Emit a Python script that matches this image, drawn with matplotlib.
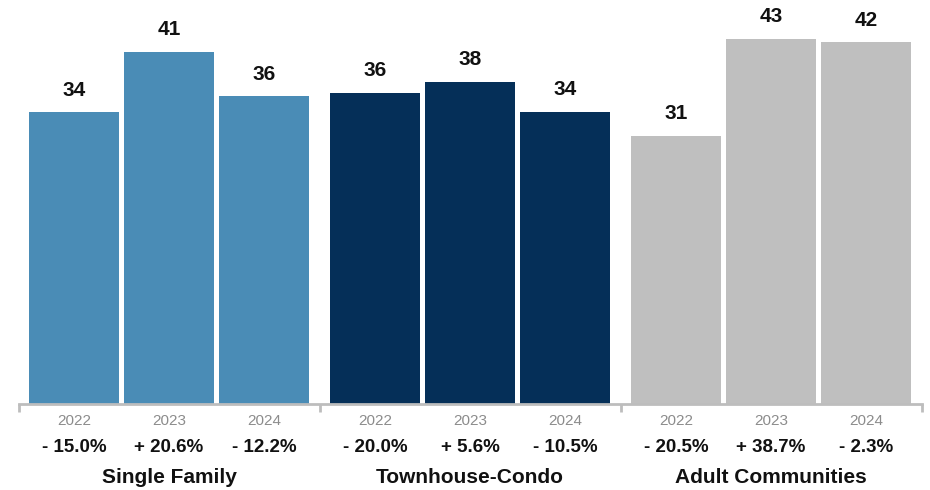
import matplotlib
matplotlib.use("Agg")
import matplotlib.pyplot as plt

plt.rcParams['font.family'] = ['Liberation Sans', 'DejaVu Sans']

categories = ["Single Family", "Townhouse-Condo", "Adult Communities"]
years = ["2022", "2023", "2024"]
# underlying values (labels are shown rounded)
values = {
    "Single Family": [34.1, 41.2, 36.0],
    "Townhouse-Condo": [36.4, 37.7, 34.2],
    "Adult Communities": [31.4, 42.7, 42.3],
}
changes = {
    "Single Family": [-15.0, 20.6, -12.2],
    "Townhouse-Condo": [-20.0, 5.6, -10.5],
    "Adult Communities": [-20.5, 38.7, -2.3],
}
colors = ["#4A8CB6", "#052F58", "#BFBFBF"]

W, H = 930, 490
fig = plt.figure(figsize=(W / 100, H / 100), dpi=100)
ax = fig.add_axes([18.5 / W, (H - 404) / H, 903 / W, 404 / H])

slot = 1.0
bar_w = 90 / 95
G = 301 / 95          # group width in slot units
half = 150.5 / 95     # half group width

tick_pos = []
for g, cat in enumerate(categories):
    center = g * G
    xs = [center + (i - 1) * slot for i in range(3)]
    ax.bar(xs, values[cat], width=bar_w, color=colors[g], zorder=2)
    for x, v, y, c in zip(xs, values[cat], years, changes[cat]):
        ax.annotate(f"{v:.0f}", xy=(x, v), xytext=(0, 22), textcoords='offset pixels',
                    ha='center', va='center', fontsize=15, fontweight='bold', color='#111111')
        ax.annotate(y, xy=(x, 0), xycoords=('data', 'axes fraction'), xytext=(0, -16.5),
                    textcoords='offset pixels', ha='center', va='center',
                    fontsize=11, color='#8C8C8C')
        sign = '+' if c >= 0 else '-'
        ax.annotate(f"{sign} {abs(c):.1f}%", xy=(x, 0), xycoords=('data', 'axes fraction'),
                    xytext=(0, -43), textcoords='offset pixels', ha='center', va='center',
                    fontsize=13.5, fontweight='bold', color='#111111')
    ax.annotate(cat, xy=(center, 0), xycoords=('data', 'axes fraction'), xytext=(0, -73),
                textcoords='offset pixels', ha='center', va='center',
                fontsize=15, fontweight='bold', color='#111111')
    tick_pos.append(center - half)
tick_pos.append(2 * G + half)

ax.set_xlim(-half, 2 * G + half)
ax.set_ylim(0, 404 / 8.55)
for s in ['top', 'right', 'left']:
    ax.spines[s].set_visible(False)
ax.spines['bottom'].set_color('#BDBDBD')
ax.spines['bottom'].set_linewidth(2)
ax.set_yticks([])
ax.set_xticks(tick_pos)
ax.set_xticklabels([])
ax.tick_params(axis='x', length=6, width=2, color='#BDBDBD')

fig.savefig("out.png", dpi=100)
